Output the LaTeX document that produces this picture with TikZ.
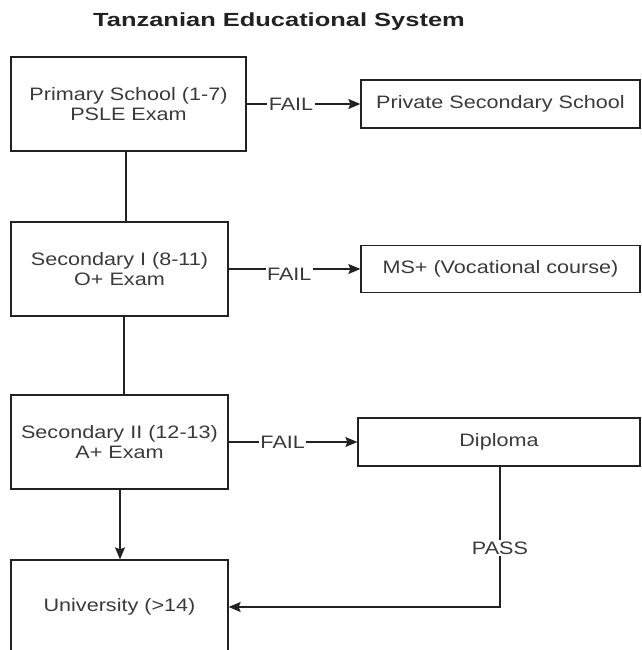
\documentclass[tikz,border=0pt]{standalone}
\usepackage{fontspec}
\setmainfont{Liberation Sans}[FakeStretch=1.2]
\newfontfamily\titlefont{Liberation Sans}[FakeStretch=1.34]
\usetikzlibrary{arrows.meta}
\definecolor{txt}{HTML}{3A3A3A}
\definecolor{ln}{HTML}{222222}
\begin{document}
\begin{tikzpicture}[x=1pt,y=-1pt,
  box/.style={draw=ln, line width=1.3pt, minimum height=94pt, align=center, text=txt, inner sep=0pt, font=\fontsize{18}{20}\selectfont},
  sbox/.style={box, minimum height=48pt},
  conn/.style={draw=ln, line width=1.3pt},
  arr/.style={conn, -{Stealth[length=12pt,width=10pt,inset=2pt]}},
  lbl/.style={fill=white, inner sep=1.5pt, text=txt, font=\fontsize{18}{20}\selectfont}
]
\useasboundingbox (0,0) rectangle (641,650);
\node[font=\titlefont\fontsize{19}{22}\selectfont\bfseries, text=ln] (title) at (279,22) {Tanzanian Educational System};

\node[box, minimum width=235pt] (prim) at (128.5,104) {Primary School (1-7)\\PSLE Exam};
\node[box, minimum width=217pt] (sec1) at (119.5,269) {Secondary I (8-11)\\O+ Exam};
\node[box, minimum width=217pt] (sec2) at (119.5,442) {Secondary II (12-13)\\A+ Exam};
\node[box, minimum width=217pt] (uni) at (119.5,607) {University (>14)};
\node[sbox, minimum width=279pt] (priv) at (500.5,104) {Private Secondary School};
\node[sbox, minimum width=279pt, minimum height=47pt] (ms) at (500.5,269) {MS+ (Vocational course)};
\node[sbox, minimum width=282pt] (dip) at (499,442) {Diploma};

\draw[arr] (prim.east) -- node[lbl,pos=0.39]{FAIL} (priv.west);
\draw[arr] (sec1.east) -- node[lbl,pos=0.46,yshift=-5pt]{FAIL} (ms.west);
\draw[arr] (sec2.east) -- node[lbl,pos=0.42]{FAIL} (dip.west);
\draw[conn] ([xshift=-2.5pt]prim.south) -- ([xshift=6.5pt]sec1.north);
\draw[conn] ([xshift=4.5pt]sec1.south) -- ([xshift=4.5pt]sec2.north);
\draw[arr] ([xshift=0.5pt]sec2.south) -- ([xshift=0.5pt]uni.north);
\draw[arr] ([xshift=1pt]dip.south) |- node[lbl,pos=0.29]{PASS} (uni.east);
\end{tikzpicture}
\end{document}
